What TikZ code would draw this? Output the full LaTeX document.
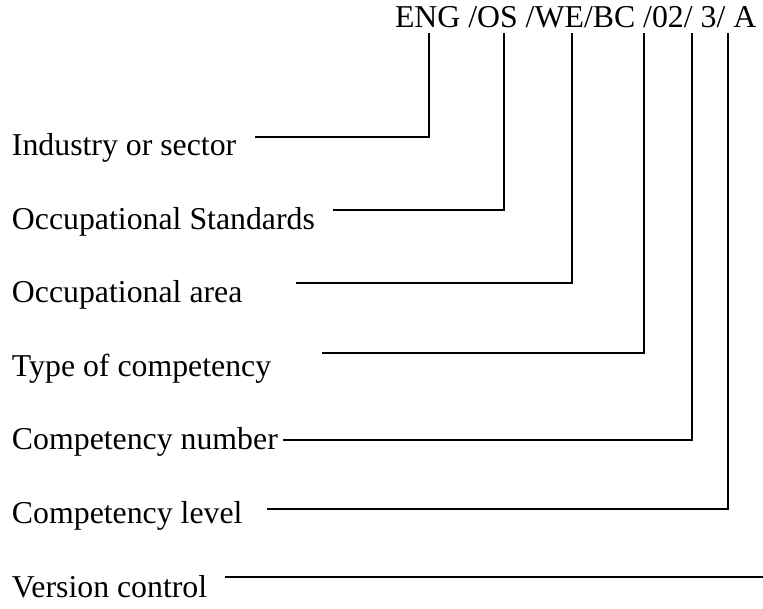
\documentclass[tikz,border=0pt]{standalone}
\usepackage{fontspec}
\setmainfont{Liberation Serif}
\begin{document}
\begin{tikzpicture}[x=1pt,y=-1pt,
  lbl/.style={anchor=base west,inner sep=0pt,outer sep=0pt,font=\fontsize{31.8}{36}\selectfont},
  conn/.style={line width=1.6pt,line join=miter}]
\useasboundingbox (0,0) rectangle (763,609);
% code
\node[lbl] (code) at (395,28) {ENG /OS /WE/BC /02/ 3/ A};
% labels
\node[lbl] (l1) at (12,156) {Industry or sector};
\node[lbl] (l2) at (12,230) {Occupational Standards};
\node[lbl] (l3) at (12,303) {Occupational area};
\node[lbl] (l4) at (12,377) {Type of competency};
\node[lbl] (l5) at (12,449) {Competency number};
\node[lbl] (l6) at (12,523) {Competency level};
\node[lbl] (l7) at (12,597) {Version control};
% top ends of the connectors
\coordinate (t1) at (429,33);
\coordinate (t2) at (504,33);
\coordinate (t3) at (572,33);
\coordinate (t4) at (644,33);
\coordinate (t5) at (692,33);
\coordinate (t6) at (728,33);
% left ends
\coordinate (s1) at (255,137);
\coordinate (s2) at (333,210);
\coordinate (s3) at (296,283);
\coordinate (s4) at (322,353);
\coordinate (s5) at (283,440);
\coordinate (s6) at (267,509);
\coordinate (s7) at (225,577);
\coordinate (e7) at (763,577);
% connectors
\draw[conn] (s1) -| (t1);
\draw[conn] (s2) -| (t2);
\draw[conn] (s3) -| (t3);
\draw[conn] (s4) -| (t4);
\draw[conn] (s5) -| (t5);
\draw[conn] (s6) -| (t6);
\draw[conn] (s7) -- (e7);
\end{tikzpicture}
\end{document}
